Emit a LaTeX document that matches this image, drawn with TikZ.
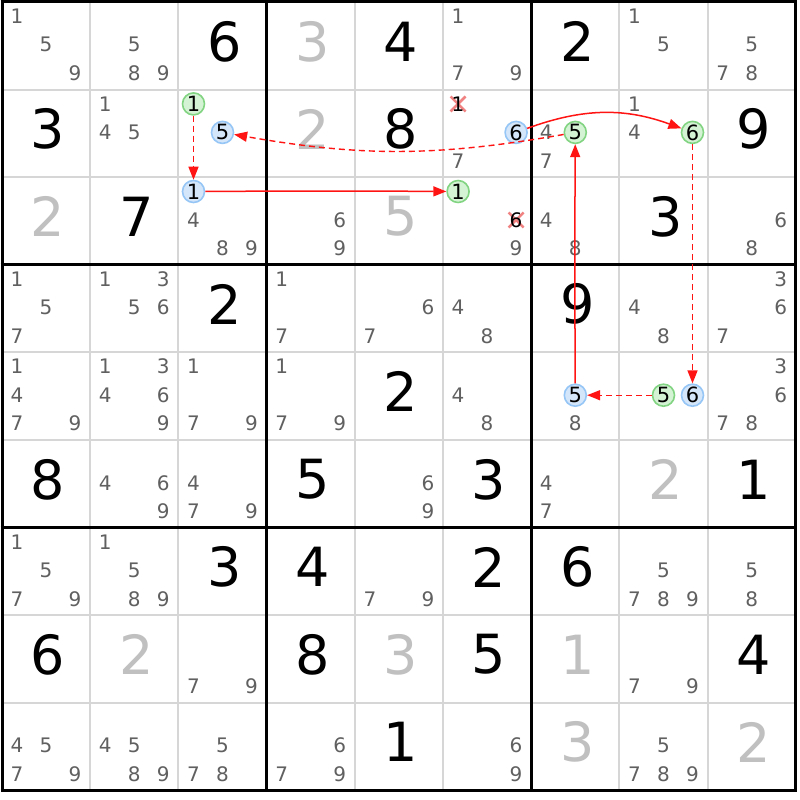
\documentclass[tikz,border=0pt]{standalone}
\usepackage{fontspec}
\setmainfont{DejaVu Sans}
\usetikzlibrary{arrows.meta}
\definecolor{candc}{RGB}{96,96,96}
\definecolor{solvedc}{RGB}{192,192,192}
\definecolor{gridc}{RGB}{214,214,214}
\definecolor{gfill}{RGB}{212,242,212}
\definecolor{gline}{RGB}{130,212,130}
\definecolor{bfill}{RGB}{212,230,250}
\definecolor{bline}{RGB}{150,198,246}
\definecolor{xmarkc}{RGB}{240,130,130}
\definecolor{lnk}{RGB}{255,20,20}
\begin{document}
\begin{tikzpicture}[x=1pt,y=-1pt,
  candtext/.style={text=candc,font=\fontsize{20}{20}\selectfont,inner sep=0pt},
  bigtext/.style={font=\fontsize{54}{54}\selectfont,inner sep=0pt},
  givend/.style={bigtext,text=black},
  solvedd/.style={bigtext,text=solvedc},
  gcirc/.style={circle,draw=gline,fill=gfill,line width=1.6pt,minimum size=22pt,inner sep=0pt,font=\fontsize{21}{21}\selectfont,text=black},
  bcirc/.style={gcirc,draw=bline,fill=bfill},
  linkbase/.style={draw=lnk,color=lnk,line width=1.4pt,-{Triangle[length=13pt,width=10pt]}},
  strong/.style={linkbase,line width=1.5pt},
  weak/.style={linkbase,dash pattern=on 6pt off 4pt},
  thinline/.style={draw=gridc,line width=2pt},
  thickline/.style={draw=black,line width=3pt},
]
\fill[white] (0,0) rectangle (800,800);
\useasboundingbox (0,0) rectangle (800,800);
% grid
\foreach \i in {1,2,4,5,7,8} {
  \draw[thinline] ({2+\i*88.2},2) -- ({2+\i*88.2},790.4);
  \draw[thinline] (2,{2+\i*87.6}) -- (795.8,{2+\i*87.6});
}
\foreach \i in {0,3,6,9} {
  \draw[thickline] ({2+\i*88.2},0.5) -- ({2+\i*88.2},791.9);
  \draw[thickline] (0.5,{2+\i*87.6}) -- (797.3,{2+\i*87.6});
}
% big digits
\foreach \r/\c/\d in {1/3/6,1/5/4,1/7/2,2/1/3,2/5/8,2/9/9,3/2/7,3/8/3,4/3/2,4/7/9,5/5/2,6/1/8,6/4/5,6/6/3,6/9/1,7/3/3,7/4/4,7/6/2,7/7/6,8/1/6,8/4/8,8/6/5,8/9/4,9/5/1} {
  \node[givend] (v\r\c) at ({2+(\c-0.5)*88.2+2},{2+(\r-0.5)*87.6-4.4}) {\d};
}
\foreach \r/\c/\d in {1/4/3,2/4/2,3/1/2,3/5/5,6/8/2,8/2/2,8/5/3,8/7/1,9/7/3,9/9/2} {
  \node[solvedd] (v\r\c) at ({2+(\c-0.5)*88.2+2},{2+(\r-0.5)*87.6-4.4}) {\d};
}
% candidates
\foreach \r/\c/\ds in {
1/1/{1,5,9}, 1/2/{5,8,9}, 1/6/{1,7,9}, 1/8/{1,5}, 1/9/{5,7,8},
2/2/{1,4,5}, 2/6/{7}, 2/7/{4,7}, 2/8/{1,4},
3/3/{4,8,9}, 3/4/{6,9}, 3/6/{9}, 3/7/{4,8}, 3/9/{6,8},
4/1/{1,5,7}, 4/2/{1,3,5,6}, 4/4/{1,7}, 4/5/{6,7}, 4/6/{4,8}, 4/8/{4,8}, 4/9/{3,6,7},
5/1/{1,4,7,9}, 5/2/{1,3,4,6,9}, 5/3/{1,7,9}, 5/4/{1,7,9}, 5/6/{4,8}, 5/7/{8}, 5/9/{3,6,7,8},
6/2/{4,6,9}, 6/3/{4,7,9}, 6/5/{6,9}, 6/7/{4,7},
7/1/{1,5,7,9}, 7/2/{1,5,8,9}, 7/5/{7,9}, 7/8/{5,7,8,9}, 7/9/{5,8},
8/3/{7,9}, 8/8/{7,9},
9/1/{4,5,7,9}, 9/2/{4,5,8,9}, 9/3/{5,7,8}, 9/4/{6,7,9}, 9/6/{6,9}, 9/8/{5,7,8,9}} {
  \foreach \d in \ds {
    \pgfmathsetmacro\px{2+(\c-0.5)*88.2+29*(mod(\d-1,3)-1)}
    \pgfmathsetmacro\py{2+(\r-0.5)*87.6+28.5*(floor((\d-1)/3)-1)-1}
    \node[candtext] (k\r\c\d) at (\px,\py) {\d};
  }
}
% eliminated candidates
\foreach \r/\c/\d/\nm in {2/6/1/X1, 3/6/6/X2} {
  \pgfmathsetmacro\px{2+(\c-0.5)*88.2+29*(mod(\d-1,3)-1)}
  \pgfmathsetmacro\py{2+(\r-0.5)*87.6+28.5*(floor((\d-1)/3)-1)-1}
  \draw[draw=xmarkc,line width=2.5pt] (\px-7.5,\py-7.5) -- (\px+7.5,\py+7.5) (\px-7.5,\py+7.5) -- (\px+7.5,\py-7.5);
  \node[candtext,text=black] (\nm) at (\px,\py) {\d};
}
% circled candidates
\foreach \r/\c/\d/\st/\nm in {2/3/1/gcirc/A, 2/3/5/bcirc/B, 3/3/1/bcirc/C, 3/6/1/gcirc/D, 2/6/6/bcirc/E, 2/7/5/gcirc/F, 2/8/6/gcirc/G, 5/7/5/bcirc/H, 5/8/5/gcirc/I, 5/8/6/bcirc/J} {
  \pgfmathsetmacro\px{2+(\c-0.5)*88.2+29*(mod(\d-1,3)-1)}
  \pgfmathsetmacro\py{2+(\r-0.5)*87.6+28.5*(floor((\d-1)/3)-1)-1}
  \node[\st] (\nm) at (\px,\py) {\d};
}
% links
\draw[weak] (A) -- (C);
\draw[strong] (C) to[bend left=0.3] (D);
\draw[weak] (F) to[bend left=10] (B);
\draw[strong] (E) to[bend left=20] (G);
\draw[weak] (G) -- (J);
\draw[weak] (I) -- (H);
\draw[strong] (H) to[bend left=0.3] (F);
\end{tikzpicture}
\end{document}
